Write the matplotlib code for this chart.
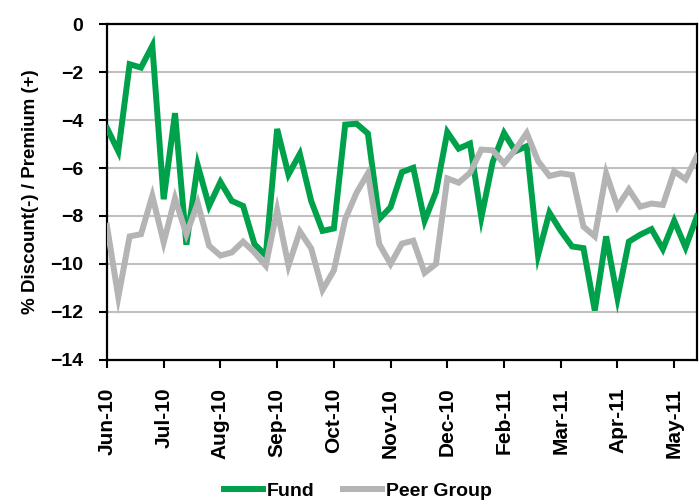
import numpy as np
import matplotlib
matplotlib.use('Agg')
import matplotlib.pyplot as plt

plt.rcParams['font.family'] = ['Liberation Sans', 'DejaVu Sans']
plt.rcParams['font.weight'] = 'bold'

# weekly readings, Jun-10 .. May-11
fund = [-4.33, -5.30, -1.67, -1.81, -0.90, -7.30, -3.71, -9.20, -5.88, -7.58,
        -6.58, -7.37, -7.58, -9.17, -9.65, -4.37, -6.27, -5.41, -7.37, -8.62,
        -8.52, -4.19, -4.15, -4.56, -8.13, -7.63, -6.17, -5.99, -8.20, -7.00,
        -4.50, -5.19, -4.98, -8.06, -5.75, -4.54, -5.30, -5.09, -9.63, -7.86,
        -8.62, -9.27, -9.34, -11.94, -8.85, -11.42, -9.07, -8.78, -8.55, -9.38,
        -8.20, -9.31, -8.02]
peer = [-8.41, -11.38, -8.85, -8.76, -7.16, -9.10, -7.26, -8.76, -7.46, -9.24,
        -9.65, -9.52, -9.07, -9.52, -10.07, -7.75, -10.07, -8.64, -9.35, -11.08,
        -10.27, -8.13, -7.03, -6.22, -9.17, -10.00, -9.15, -9.03, -10.37, -10.00,
        -6.43, -6.61, -6.20, -5.23, -5.26, -5.81, -5.23, -4.54, -5.71, -6.33,
        -6.22, -6.29, -8.44, -8.85, -6.22, -7.61, -6.89, -7.61, -7.48, -7.54,
        -6.13, -6.47, -5.50]
tick_labels = ['Jun-10', 'Jul-10', 'Aug-10', 'Sep-10', 'Oct-10', 'Nov-10',
               'Dec-10', 'Feb-11', 'Mar-11', 'Apr-11', 'May-11']

x = np.arange(len(fund))

fig = plt.figure(figsize=(6.99, 5.04), dpi=100)
ax = fig.add_axes([0.153, 0.286, 0.844, 0.666])

ax.plot(x, fund, color='#00A14B', linewidth=4.3, label='Fund',
        solid_joinstyle='miter', zorder=3)
ax.plot(x, peer, color='#B4B4B4', linewidth=4.3, label='Peer Group',
        solid_joinstyle='miter', zorder=4)

ax.set_xlim(0, len(fund) - 1)
ax.set_ylim(-14, 0)
ax.set_yticks(np.arange(-14, 1, 2))
ax.set_xticks(np.arange(0, len(fund), 5))
ax.set_xticklabels(tick_labels, rotation=90, fontsize=15, fontweight='bold')
for lbl in ax.get_yticklabels():
    lbl.set_fontsize(14)
    lbl.set_fontweight('bold')

ax.yaxis.grid(True, color='#C0C0C0', linewidth=1.5)
ax.set_axisbelow(True)
ax.tick_params(axis='both', direction='out', length=6, width=1.5, color='black')
ax.tick_params(axis='y', pad=11)
ax.tick_params(axis='x', pad=14)
for sp in ax.spines.values():
    sp.set_linewidth(1.6)
    sp.set_color('black')

ax.set_ylabel('% Discount(-) / Premium (+)', fontsize=13.5, fontweight='bold',
              labelpad=8)

handles, labels = ax.get_legend_handles_labels()
fig.legend(handles, labels, loc='center', bbox_to_anchor=(0.512, 0.026),
           ncol=2, frameon=False, handlelength=2.0, columnspacing=1.5,
           handletextpad=0.2, prop={'weight': 'bold', 'size': 14})

fig.savefig('out.png', dpi=100)
